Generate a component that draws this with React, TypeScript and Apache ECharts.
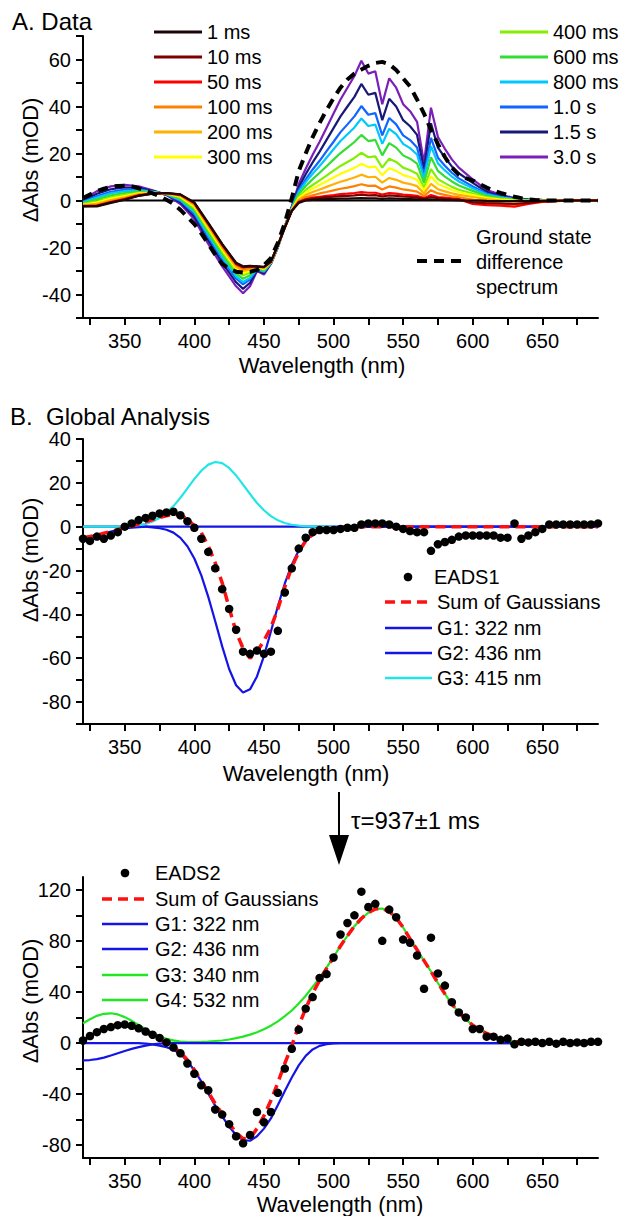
import React, { useEffect, useRef } from "react";
import * as echarts from "echarts";

const FONT = '"Liberation Sans", Arial, Helvetica, sans-serif';

// ---------- axes ----------
const X_TICKS = [325, 350, 375, 400, 425, 450, 475, 500, 525, 550, 575, 600, 625, 650, 675];
const X_LABELS = [350, 400, 450, 500, 550, 600, 650];
const YA_TICKS = [-50, -40, -30, -20, -10, 0, 10, 20, 30, 40, 50, 60, 70];
const YA_LABELS = [-40, -20, 0, 20, 40, 60];
const YB1_TICKS = [-90, -80, -70, -60, -50, -40, -30, -20, -10, 0, 10, 20, 30, 40];
const YB1_LABELS = [-80, -60, -40, -20, 0, 20, 40];
const YB2_TICKS = [-80, -60, -40, -20, 0, 20, 40, 60, 80, 100, 120];
const YB2_LABELS = [-80, -40, 0, 40, 80, 120];

// ---------- panel A : data ----------
const WL_A = [320, 330, 340, 350, 360, 370, 380, 390, 400, 410, 420, 430, 435, 440, 445, 450, 455, 460, 465, 470, 475, 480, 485, 490, 495, 500, 505, 510, 515, 520, 525, 530, 535, 540, 545, 550, 555, 560, 565, 570, 575, 580, 585, 590, 600, 610, 620, 630, 640, 650, 670, 690];

const A_1ms = [-2.5, -2.5, -1, 0.3, 2, 2.9, 3.2, 2.6, -0.8, -9.5, -18.5, -26.5, -28, -27.8, -28, -28.2, -26, -19, -11.5, -4.5, -1, 0, 0.3, 0.5, 0.6, 0.7, 0.8, 0.8, 0.9, 1, 0.9, 0.9, 0.7, 0.9, 0.8, 0.7, 0.6, 0.5, 0.3, 0.5, 0.3, 0.2, 0.1, 0, 0, -0.2, -0.3, -0.3, -0.3, -0.2, 0, 0];
const A_10ms = [-2.4, -2.3, -0.8, 0.5, 2.1, 2.9, 3.2, 2.5, -1.0, -9.7, -18.7, -26.8, -28.3, -28.0, -28.1, -28.3, -26, -19, -11.5, -4.4, -0.8, 0.3, 0.8, 1.1, 1.4, 1.6, 1.9, 2.0, 2.2, 2.5, 2.2, 2.3, 1.7, 2.2, 2.0, 1.7, 1.5, 1.3, 0.7, 1.5, 1.0, 0.7, 0.5, 0.4, -0.8, -1.2, -1.2, -1.5, -1.0, -0.4, 0, 0];
const A_50ms = [-2.4, -2.2, -0.7, 0.6, 2.2, 3.0, 3.2, 2.4, -1.1, -9.9, -18.9, -27.0, -28.5, -28.2, -28.1, -28.4, -26.0, -19.0, -11.5, -4.4, -0.6, 0.6, 1.2, 1.6, 2.0, 2.3, 2.7, 2.9, 3.2, 3.6, 3.3, 3.3, 2.5, 3.2, 2.9, 2.5, 2.3, 2.0, 1.0, 2.3, 1.5, 1.2, 0.9, 0.6, -1.5, -2.0, -2.2, -2.6, -1.5, -0.6, 0, 0];
const A_100ms = [-2.2, -1.9, -0.3, 0.9, 2.4, 3.0, 3.1, 2.2, -1.5, -10.4, -19.5, -27.5, -29.2, -28.7, -28.2, -28.5, -26.1, -19.1, -11.5, -4.3, -0.2, 1.4, 2.2, 3.0, 3.6, 4.3, 5.0, 5.5, 6.1, 6.9, 6.2, 6.3, 4.7, 6.0, 5.5, 4.7, 4.3, 3.8, 1.9, 4.4, 3.0, 2.4, 1.8, 1.4, 0.4, -0.8, -1.5, -1.8, -1.0, -0.3, 0, 0];
const A_200ms = [-2.0, -1.4, 0.2, 1.4, 2.7, 3.1, 3.0, 1.9, -2.0, -11.0, -20.1, -28.2, -30.0, -29.3, -28.3, -28.8, -26.2, -19.2, -11.4, -4.2, 0.4, 2.3, 3.6, 4.7, 5.8, 6.9, 8.0, 8.8, 9.8, 11.0, 9.9, 10.1, 7.6, 9.6, 8.8, 7.6, 7.0, 6.1, 3.0, 7.1, 4.8, 3.9, 3.1, 2.4, 1.5, 0.6, 0, -0.5, -0.3, -0.1, 0, 0];
const A_300ms = [-1.8, -0.9, 0.8, 1.9, 3.0, 3.3, 3.0, 1.6, -2.6, -11.8, -20.9, -29.0, -30.9, -30.0, -28.5, -29.0, -26.3, -19.3, -11.4, -4.0, 1.0, 3.4, 5.1, 6.6, 8.2, 9.8, 11.4, 12.6, 13.9, 15.6, 14.2, 14.4, 10.8, 13.7, 12.6, 10.8, 10.0, 8.8, 4.2, 10.3, 7.0, 5.7, 4.5, 3.5, 2.3, 1.0, 0.4, 0, -0.1, -0.1, 0, 0];
const A_400ms = [-1.5, -0.4, 1.3, 2.4, 3.3, 3.4, 2.9, 1.3, -3.2, -12.5, -21.6, -29.8, -31.8, -30.7, -28.7, -29.3, -26.3, -19.3, -11.3, -3.8, 1.6, 4.5, 6.6, 8.6, 10.6, 12.7, 14.7, 16.4, 18.1, 20.3, 18.4, 18.8, 14.0, 17.8, 16.4, 14.0, 12.9, 11.4, 5.5, 13.4, 9.1, 7.4, 5.8, 4.6, 3.0, 1.4, 0.6, 0.1, 0, 0, 0, 0];
const A_600ms = [-1.1, 0.5, 2.2, 3.2, 3.8, 3.5, 2.8, 0.7, -4.1, -13.6, -22.9, -31.1, -33.3, -31.8, -28.9, -29.7, -26.5, -19.5, -11.3, -3.6, 2.7, 6.2, 9.1, 11.8, 14.6, 17.4, 20.2, 22.5, 24.9, 27.9, 25.3, 25.8, 19.2, 24.4, 22.5, 19.2, 17.8, 15.7, 7.5, 18.4, 12.6, 10.2, 8.1, 6.4, 4.1, 2.0, 1.0, 0.3, 0.1, 0, 0, 0];
const A_800ms = [-0.8, 1.3, 3.1, 4.0, 4.3, 3.7, 2.7, 0.2, -5.0, -14.7, -24.0, -32.3, -34.7, -32.9, -29.2, -30.1, -26.6, -19.6, -11.2, -3.3, 3.6, 7.8, 11.4, 14.7, 18.2, 21.8, 25.3, 28.2, 31.1, 34.9, 31.7, 32.3, 24.1, 30.5, 28.2, 24.1, 22.3, 19.6, 9.4, 23.1, 15.8, 12.8, 10.2, 8.1, 5.2, 2.5, 1.3, 0.5, 0.2, 0.1, 0.1, 0];
const A_1s = [-0.5, 1.9, 3.7, 4.6, 4.7, 3.8, 2.6, -0.2, -5.6, -15.5, -24.9, -33.2, -35.7, -33.6, -29.3, -30.4, -26.7, -19.7, -11.2, -3.2, 4.4, 9.0, 13.2, 16.9, 21.0, 25.0, 29.1, 32.4, 35.8, 40.2, 36.5, 37.2, 27.7, 35.1, 32.4, 27.7, 25.7, 22.6, 10.8, 26.6, 18.2, 14.8, 11.8, 9.4, 6.0, 3.0, 1.6, 0.6, 0.2, 0.1, 0.1, 0];
const A_1_5s = [0.0, 2.9, 4.8, 5.6, 5.3, 4.1, 2.5, -0.8, -6.8, -17.0, -26.4, -34.8, -37.6, -35.0, -29.7, -30.9, -26.8, -19.8, -11.1, -2.8, 5.6, 11.2, 16.2, 20.8, 25.8, 30.8, 35.8, 40.0, 44.1, 49.6, 45.0, 45.8, 34.2, 43.3, 40.0, 34.2, 31.6, 27.9, 13.3, 32.9, 22.5, 18.3, 14.5, 11.6, 7.5, 3.7, 2.0, 0.8, 0.4, 0.2, 0.1, 0];
const A_3s = [0.5, 4, 6, 6.7, 6, 4.3, 2.3, -1.5, -8, -18.5, -28, -36.5, -39.5, -36.5, -30, -31.5, -27, -20, -11, -2.5, 7, 13.5, 19.5, 25, 31, 37, 43, 48, 53, 59.5, 54, 55, 41, 52, 48, 41, 38, 33.5, 16, 39.5, 27, 22, 17.5, 14, 9, 4.5, 2.5, 1, 0.5, 0.3, 0.1, 0];

const TIME_LABELS = ["1 ms", "10 ms", "50 ms", "100 ms", "200 ms", "300 ms", "400 ms", "600 ms", "800 ms", "1.0 s", "1.5 s", "3.0 s"];
const TIME_COLORS = ["#1c0606", "#7d0000", "#ff0000", "#ff8000", "#ffb000", "#ffff00", "#80f000", "#33dd33", "#00c8ff", "#1064ff", "#181878", "#7a1fb8"];
const TIME_SERIES = [A_1ms, A_10ms, A_50ms, A_100ms, A_200ms, A_300ms, A_400ms, A_600ms, A_800ms, A_1s, A_1_5s, A_3s];

const WL5 = [320, 325, 330, 335, 340, 345, 350, 355, 360, 365, 370, 375, 380, 385, 390, 395, 400, 405, 410, 415, 420, 425, 430, 435, 440, 445, 450, 455, 460, 465, 470, 475, 480, 485, 490, 495, 500, 505, 510, 515, 520, 525, 530, 535, 540, 545, 550, 555, 560, 565, 570, 575, 580, 585, 590, 595, 600, 605, 610, 615, 620, 625, 630, 635, 640, 645, 650, 655, 660, 665, 670, 675, 680, 685, 690];

const GROUND_STATE = [1, 2.5, 4, 5, 5.8, 6.2, 6.3, 6, 5.2, 4.2, 3, 1.8, 0.3, -1.5, -4, -7, -10, -14, -18.5, -23, -27, -29, -30.3, -30.7, -30.4, -29.5, -27.5, -24.5, -18, -9.6, 1, 12.5, 20, 27, 33, 38.5, 43.5, 48, 51.5, 54, 55.7, 57.3, 58.5, 59, 58, 55.5, 52, 48.5, 43, 37, 30, 24, 18.5, 14, 11, 9.5, 8.5, 7, 5.5, 4.2, 3.2, 2.4, 1.6, 1, 0.5, 0.2, 0, 0, 0, 0, 0, 0, 0, 0, 0];

// ---------- panel B1 : EADS1 ----------
const EADS1 = [-5.5, -6.5, -4.5, -5.5, -4, -2.5, 0, 1.5, 3, 4, 5, 6, 6.5, 6.8, 5.2, 2.5, -0.5, -5.5, -11.5, -19, -28.5, -37.5, -47, -57, -58, -56.5, -58, -57, -47.5, -30, -19, -10, -5, -2.5, -1.5, -1.5, -1.5, -1, -0.5, -0.5, 1, 1.5, 1.5, 1.5, 1, 0, -1, -2, -2.5, -2.5, -11, -8, -7, -6, -4.5, -4, -4, -4, -4, -4, -5, -5, 1.5, -5.5, -4, -2.5, -1, 1, 1, 1, 1, 1, 1, 1, 1.5];

const B1_SUM_WL = [320, 325, 330, 335, 340, 345, 350, 355, 360, 365, 370, 375, 380, 385, 390, 395, 400, 405, 410, 415, 420, 425, 430, 435, 440, 445, 450, 455, 460, 465, 470, 475, 480, 485, 490, 495, 500, 505, 510, 515, 520, 690];
const B1_SUM = [-5, -4.5, -3.8, -3, -2.2, -1.3, -0.5, 0.3, 1.2, 2.2, 3.2, 4.2, 5, 5.6, 5.2, 3.5, 0.3, -2.7, -8.8, -16.5, -25.6, -37, -48, -55.5, -60, -57, -52, -46, -37.5, -27.5, -18.5, -11.5, -6.5, -3.5, -1.8, -1, -0.6, -0.3, -0.1, 0, 0, 0];

const B1_G1_WL = [320, 325, 330, 335, 340, 345, 350, 355, 360, 365, 690];
const B1_G1 = [-5, -4.5, -3.8, -3, -2.2, -1.5, -0.8, -0.4, -0.2, 0, 0];

const B1_G2_WL = [320, 365, 370, 375, 380, 385, 390, 395, 400, 405, 410, 415, 420, 425, 430, 435, 440, 445, 450, 455, 460, 465, 470, 475, 480, 485, 490, 495, 500, 505, 510, 690];
const B1_G2 = [0, 0, -0.3, -0.7, -1.4, -2.7, -5.1, -8.9, -14.5, -22.2, -32, -43.1, -54.6, -64.9, -72.3, -75.6, -74.2, -68.3, -59, -47.8, -36.3, -25.9, -17.3, -10.9, -6.4, -3.5, -1.8, -0.9, -0.4, -0.2, 0, 0];

const B1_G3_WL = [320, 340, 345, 350, 355, 360, 365, 370, 375, 380, 385, 390, 395, 400, 405, 410, 415, 420, 425, 430, 435, 440, 445, 450, 455, 460, 465, 470, 475, 480, 485, 490, 500];
const B1_G3 = [0, 0.03, 0.07, 0.16, 0.35, 0.7, 1.3, 2.4, 4, 6.3, 9.4, 13.2, 17.5, 21.8, 25.5, 28.3, 29.5, 29, 26.8, 23.4, 19.2, 14.9, 10.8, 7.5, 4.8, 2.9, 1.7, 0.9, 0.5, 0.2, 0.1, 0, 0];

// ---------- panel B2 : EADS2 ----------
const EADS2 = [2, 5.5, 8.5, 11, 12.5, 14, 14.5, 13.5, 11.5, 9, 6.5, 4, 0.5, -3.5, -8, -16, -24, -33, -37, -52, -56, -63.5, -73, -78.5, -72, -54, -62, -54, -39, -20, -4.5, 10.5, 27, 36, 51, 54, 67, 85, 94, 100, 118.5, 106.5, 109, 80, 104.5, 98.5, 81, 78.5, 68.5, 42.5, 82.5, 54.5, 45, 32, 24, 20, 11, 11, 5, 5, 2.5, 3.5, -1, 1, 0.5, 1, 0, 1, -0.5, 1, 0, 0.5, 0, 1, 1];

const B2_SUM_WL = [320, 325, 330, 335, 340, 345, 350, 355, 360, 365, 370, 375, 380, 385, 390, 395, 400, 405, 410, 415, 420, 425, 430, 435, 440, 445, 450, 455, 460, 465, 470, 475, 480, 485, 490, 495, 500, 505, 510, 515, 520, 525, 530, 535, 540, 545, 550, 555, 560, 565, 570, 575, 580, 585, 590, 595, 600, 605, 610, 615, 620, 625, 630, 635, 640, 645, 650, 690];
const B2_SUM = [2, 5.3, 8.7, 11.5, 13.5, 14.4, 14.1, 12.8, 10.9, 8.3, 5.7, 2.8, 0, -3.1, -7.3, -13.3, -21, -29.5, -38.5, -47.5, -55.5, -63, -70, -75, -74.5, -67, -57, -45, -31, -16, -2, 13.5, 27, 39, 49, 58.5, 67, 76, 84, 91.5, 97.5, 102, 105, 105.3, 103, 98, 90.5, 81.5, 73, 64.5, 56, 47, 38.5, 30.5, 24, 18.5, 14, 10.5, 7.5, 5.5, 3.5, 2.2, 1.3, 0.7, 0.4, 0.2, 0.1, 0];

const B2_G1_WL = [320, 325, 330, 335, 340, 345, 350, 355, 360, 365, 370, 375, 380, 385, 690];
const B2_G1 = [-13.5, -13.3, -12.6, -11.4, -9.8, -8, -6.2, -4.6, -3.2, -2, -1.1, -0.5, -0.2, 0, 0];

const B2_G2_WL = [320, 360, 365, 370, 375, 380, 385, 390, 395, 400, 405, 410, 415, 420, 425, 430, 435, 440, 445, 450, 455, 460, 465, 470, 475, 480, 485, 490, 495, 500, 505, 690];
const B2_G2 = [0, 0, -0.5, -1, -2, -3.2, -5.2, -8.5, -14, -21.5, -30, -39.5, -49, -57.5, -65.5, -72, -76, -76.5, -73, -67, -59, -48.5, -37.5, -27, -17.5, -10, -5, -2.2, -0.9, -0.3, 0, 0];

const B2_G3_WL = [320, 325, 330, 335, 340, 345, 350, 355, 360, 365, 370, 375, 380, 385, 390, 395, 400, 405, 410, 415, 420];
const B2_G3 = [15.5, 18.6, 21.3, 22.9, 23.3, 22.4, 20.3, 17.4, 14.1, 10.8, 7.8, 5.3, 3.4, 2.1, 1.2, 0.66, 0.34, 0.16, 0.07, 0.03, 0];

const B2_G4_WL = [380, 385, 390, 395, 400, 405, 410, 415, 420, 425, 430, 435, 440, 445, 450, 455, 460, 465, 470, 475, 480, 485, 490, 495, 500, 505, 510, 515, 520, 525, 530, 535, 540, 545, 550, 555, 560, 565, 570, 575, 580, 585, 590, 595, 600, 605, 610, 615, 620, 625, 630, 635, 640, 645, 650, 660];
const B2_G4 = [0.2, 0.3, 0.4, 0.5, 0.7, 0.9, 1.2, 1.6, 2.0, 2.8, 3.8, 5.0, 6.6, 8.4, 10.8, 13.6, 17, 21, 25.5, 31, 37, 44, 51, 59, 67.5, 76, 84, 91.5, 97.5, 102, 105, 105.3, 103, 98, 90.5, 81.5, 73, 64.5, 56, 47, 38.5, 30.5, 24, 18.5, 14, 10.5, 7.5, 5.5, 3.5, 2.2, 1.3, 0.7, 0.4, 0.2, 0.1, 0];

const B1_LEGEND = ["EADS1", "Sum of Gaussians", "G1: 322 nm", "G2: 436 nm", "G3: 415 nm"];
const B2_LEGEND = ["EADS2", "Sum of Gaussians", "G1: 322 nm", "G2: 436 nm", "G3: 340 nm", "G4: 532 nm"];
const GS_LEGEND = ["Ground state", "difference", "spectrum"];
const TAU_TEXT = "τ=937±1 ms";

const BLUE = "#1414e6";
const CYAN = "#22e6e6";
const GREEN = "#22e622";
const RED = "#ff1010";

function zip(xs: number[], ys: number[]) {
  return ys.map((y, i) => [xs[i], y]);
}

function xAxis(gi: number) {
  return {
    type: "value",
    gridIndex: gi,
    min: 320,
    max: 690,
    axisLine: { show: true, onZero: false, lineStyle: { color: "#000", width: 2 } },
    axisTick: { show: true, inside: false, length: 7, customValues: X_TICKS, lineStyle: { color: "#000", width: 2 } },
    axisLabel: { show: true, customValues: X_LABELS, fontSize: 20, lineHeight: 20, color: "#000", fontFamily: FONT, margin: 13 },
    splitLine: { show: false },
  };
}

function yAxis(gi: number, min: number, max: number, ticks: number[], labels: number[]) {
  return {
    type: "value",
    gridIndex: gi,
    min,
    max,
    axisLine: { show: true, onZero: false, lineStyle: { color: "#000", width: 2 } },
    axisTick: { show: true, inside: false, length: 7, customValues: ticks, lineStyle: { color: "#000", width: 2 } },
    axisLabel: { show: true, customValues: labels, fontSize: 20, lineHeight: 20, color: "#000", fontFamily: FONT, margin: 12 },
    splitLine: { show: false },
  };
}

function line(gi: number, data: number[][], color: string, width: number, dash?: number[], z = 2) {
  return {
    type: "line",
    xAxisIndex: gi,
    yAxisIndex: gi,
    data,
    symbol: "none",
    showSymbol: false,
    silent: true,
    z,
    lineStyle: { color, width, type: dash ? dash : "solid" },
  };
}

function txt(x: number, y: number, text: string, size: number, align = "left", rotation = 0) {
  return {
    type: "text",
    x,
    y,
    rotation,
    silent: true,
    style: {
      text,
      fontSize: size,
      lineHeight: size,
      fontFamily: FONT,
      fill: "#000",
      textAlign: align,
      textVerticalAlign: "middle",
      align,
      verticalAlign: "middle",
    },
  };
}

function seg(x1: number, y1: number, x2: number, y2: number, color: string, width: number, dash?: number[]) {
  return {
    type: "line",
    silent: true,
    shape: { x1, y1, x2, y2 },
    style: { stroke: color, lineWidth: width, lineDash: dash || null },
  };
}

export default function App() {
  const ref = useRef<HTMLDivElement>(null);

  useEffect(() => {
    if (!ref.current) return;
    const chart = echarts.init(ref.current, null, { renderer: "svg" });

    const series: any[] = [];
    // Panel A
    series.push(line(0, [[320, 0], [690, 0]], "#000", 2));
    for (let i = TIME_SERIES.length - 1; i >= 0; i--) {
      series.push(line(0, zip(WL_A, TIME_SERIES[i]), TIME_COLORS[i], 2.2));
    }
    series.push(line(0, zip(WL5, GROUND_STATE), "#000", 4, [10, 7], 5));

    // Panel B1
    series.push(line(1, zip(B1_G2_WL, B1_G2), BLUE, 2.2));
    series.push(line(1, zip(B1_G1_WL, B1_G1), BLUE, 2.2));
    series.push(line(1, zip(B1_G3_WL, B1_G3), CYAN, 2.2));
    series.push(line(1, zip(B1_SUM_WL, B1_SUM), RED, 3.5, [10, 6], 3));
    series.push({
      type: "scatter", xAxisIndex: 1, yAxisIndex: 1, data: zip(WL5, EADS1),
      symbol: "circle", symbolSize: 8.5, itemStyle: { color: "#000", opacity: 1 }, silent: true, z: 4,
    });

    // Panel B2
    series.push(line(2, zip(B2_G3_WL, B2_G3), GREEN, 2.2));
    series.push(line(2, zip(B2_G4_WL, B2_G4), GREEN, 2.2));
    series.push(line(2, zip(B2_G2_WL, B2_G2), BLUE, 2.2));
    series.push(line(2, zip(B2_G1_WL, B2_G1), BLUE, 2.2));
    series.push(line(2, zip(B2_SUM_WL, B2_SUM), RED, 3.5, [10, 6], 3));
    series.push({
      type: "scatter", xAxisIndex: 2, yAxisIndex: 2, data: zip(WL5, EADS2),
      symbol: "circle", symbolSize: 8.5, itemStyle: { color: "#000", opacity: 1 }, silent: true, z: 4,
    });

    const graphics: any[] = [];
    // titles & axis names
    graphics.push(txt(12, 21, "A. Data", 24));
    graphics.push(txt(10, 416, "B.  Global Analysis", 24));
    graphics.push(txt(322, 365, "Wavelength (nm)", 22, "center"));
    graphics.push(txt(306, 773, "Wavelength (nm)", 22, "center"));
    graphics.push(txt(340, 1204, "Wavelength (nm)", 22, "center"));
    graphics.push(txt(30, 160, "ΔAbs (mOD)", 22, "center", Math.PI / 2));
    graphics.push(txt(30, 560, "ΔAbs (mOD)", 22, "center", Math.PI / 2));
    graphics.push(txt(30, 1001, "ΔAbs (mOD)", 22, "center", Math.PI / 2));

    // Panel A legend
    for (let i = 0; i < 12; i++) {
      const col = i < 6 ? 0 : 1;
      const row = i % 6;
      const y = 32 + row * 25;
      const x0 = col === 0 ? 154 : 500;
      graphics.push(seg(x0, y, x0 + 48, y, TIME_COLORS[i], 3));
      graphics.push(txt(x0 + 53, y, TIME_LABELS[i], 20));
    }
    graphics.push(seg(417, 261, 465, 261, "#000", 4, [10, 7]));
    GS_LEGEND.forEach((t, i) => graphics.push(txt(476, 237 + i * 25, t, 20)));

    // Panel B1 legend
    const b1Rows = [577, 602, 628, 653, 678];
    graphics.push({ type: "circle", silent: true, shape: { cx: 408, cy: b1Rows[0], r: 4.3 }, style: { fill: "#000" } });
    graphics.push(seg(385, b1Rows[1], 432, b1Rows[1], RED, 3.5, [10, 6]));
    graphics.push(seg(385, b1Rows[2], 432, b1Rows[2], BLUE, 2.5));
    graphics.push(seg(385, b1Rows[3], 432, b1Rows[3], BLUE, 2.5));
    graphics.push(seg(385, b1Rows[4], 432, b1Rows[4], CYAN, 2.5));
    B1_LEGEND.forEach((t, i) => graphics.push(txt(i === 0 ? 434 : 437, b1Rows[i], t, 20)));

    // Arrow + tau
    graphics.push(seg(339, 792, 339, 840, "#000", 2));
    graphics.push({ type: "polygon", silent: true, shape: { points: [[329, 835], [349, 835], [339, 865]] }, style: { fill: "#000" } });
    graphics.push(txt(351, 820, TAU_TEXT, 24));

    // Panel B2 legend
    const b2Rows = [873, 899, 924, 949, 975, 1000];
    const b2Colors = [null, RED, BLUE, BLUE, GREEN, GREEN];
    graphics.push({ type: "circle", silent: true, shape: { cx: 125, cy: b2Rows[0], r: 4.3 }, style: { fill: "#000" } });
    for (let i = 1; i < 6; i++) {
      graphics.push(seg(102, b2Rows[i], 148, b2Rows[i], b2Colors[i] as string, i === 1 ? 3.5 : 2.5, i === 1 ? [10, 6] : undefined));
    }
    B2_LEGEND.forEach((t, i) => graphics.push(txt(155, b2Rows[i], t, 20)));

    chart.setOption({
      animation: false,
      backgroundColor: "#fff",
      textStyle: { fontFamily: FONT },
      grid: [
        { left: 83, top: 36, width: 515, height: 282 },
        { left: 83, top: 439, width: 515, height: 285 },
        { left: 83, top: 877, width: 515, height: 281 },
      ],
      xAxis: [xAxis(0), xAxis(1), xAxis(2)],
      yAxis: [
        yAxis(0, -50, 70, YA_TICKS, YA_LABELS),
        yAxis(1, -90, 40, YB1_TICKS, YB1_LABELS),
        yAxis(2, -90, 130, YB2_TICKS, YB2_LABELS),
      ],
      series,
      graphic: graphics,
    });

    return () => chart.dispose();
  }, []);

  return (
    <div
      ref={ref}
      style={{ position: "absolute", left: 0, top: 0, width: 622, height: 1216, background: "#fff" }}
    />
  );
}
